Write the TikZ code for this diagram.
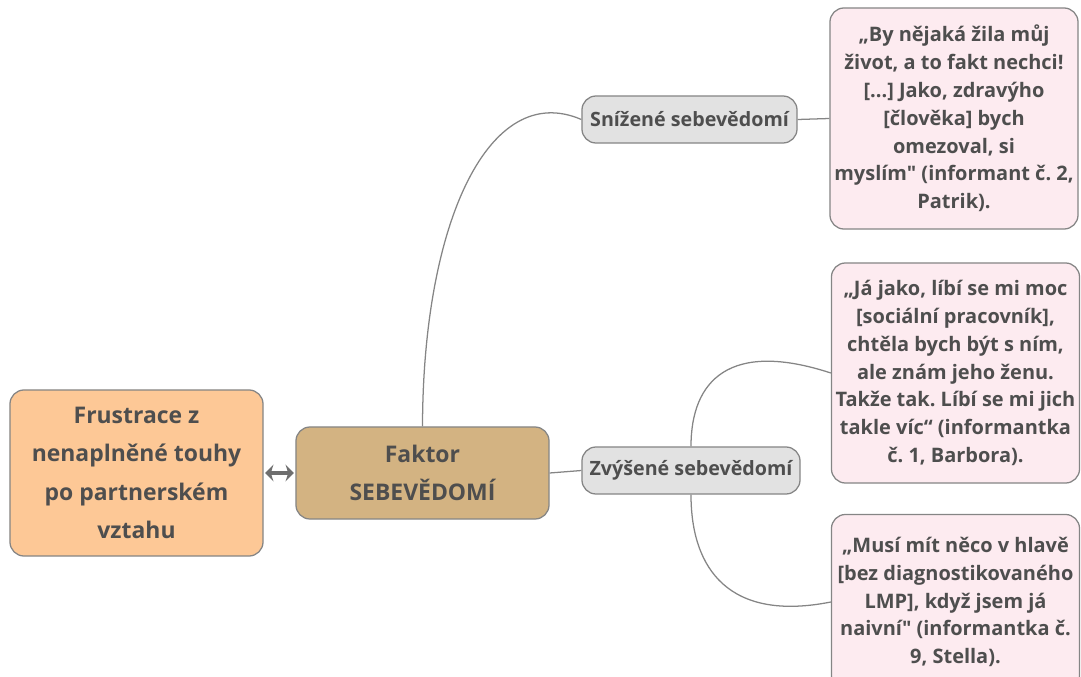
\documentclass[tikz,border=0pt]{standalone}
\usepackage{fontspec}
\newfontfamily\mapfont{Open Sans}
\usetikzlibrary{arrows.meta}
\definecolor{peach}{HTML}{FDC896}
\definecolor{tan}{HTML}{D3B382}
\definecolor{lgray}{HTML}{E2E2E2}
\definecolor{pinkbg}{HTML}{FDEBF0}
\definecolor{edge}{HTML}{858585}
\definecolor{arrowgray}{HTML}{6E6E6E}
\definecolor{txt}{HTML}{4E4E4E}
\frenchspacing
\begin{document}
\begin{tikzpicture}[x=0.025cm,y=-0.025cm,
        box/.style={draw=edge,line width=0.9pt,rounded corners=10pt,inner sep=0pt,
            align=center,text=txt},
        mainbox/.style={box,font=\mapfont\bfseries\fontsize{16.3}{27.3}\selectfont},
        subbox/.style={box,fill=lgray,minimum height=1.175cm,
            font=\mapfont\bfseries\fontsize{14}{16}\selectfont},
        quote/.style={box,fill=pinkbg,minimum width=6.2cm,
            font=\mapfont\bfseries\fontsize{14.2}{19.8}\selectfont},
        link/.style={draw=edge,line width=0.9pt}]
        \useasboundingbox (0,0) rectangle (1081,677);

        % main boxes
        \node[mainbox,fill=peach,minimum width=6.325cm,minimum height=4.15cm] (frust) at (136.5,473)
            {Frustrace z\\ nenaplněné touhy\\ po partnerském\\ vztahu};
        \node[mainbox,fill=tan,minimum width=6.325cm,minimum height=2.3cm] (factor) at (422.5,473)
            {Faktor\\ SEBEVĚDOMÍ};

        % sub boxes
        \node[subbox,minimum width=5.375cm] (low) at (689.5,119.5) {Snížené sebevědomí};
        \node[subbox,minimum width=5.45cm] (high) at (691,470.5) {Zvýšené sebevědomí};

        % quotes
        \node[quote,minimum height=5.525cm] (q1) at (954,118.5)
            {„By nějaká žila můj\\ život, a to fakt nechci!\\{}[...] Jako, zdravýho\\{}[člověka] bych\\
             omezoval, si\\ myslím" (informant č. 2,\\ Patrik).};
        \node[quote,minimum height=5.5cm] (q2) at (955.5,373)
            {„Já jako, líbí se mi moc\\{}[sociální pracovník],\\ chtěla bych být s ním,\\
             ale znám jeho ženu.\\ Takže tak. Líbí se mi jich\\ takle víc“ (informantka\\ č. 1, Barbora).};
        \node[quote,minimum height=4.375cm] (q3) at (955.5,602)
            {„Musí mít něco v hlavě\\{}[bez diagnostikovaného\\ LMP], když jsem já\\
             naivní" (informantka č.\\ 9, Stella).};

        % connectors
        \draw[arrowgray,line width=3.5pt,shorten <=1pt,shorten >=1pt,
            {Stealth[length=6pt,width=12pt]}-{Stealth[length=6pt,width=12pt]}]
            (frust.east) -- (factor.west);
        \draw[link] (factor.north) .. controls (423,220) and (490,80) .. (low.west);
        \draw[link] (factor.east) -- (high.west);
        \draw[link] (low.east) -- (q1.west);
        \draw[link] (high.north) .. controls (691,380) and (730,340) .. (q2.west);
        \draw[link] (high.south) .. controls (691,570) and (730,622) .. (q3.west);
\end{tikzpicture}
\end{document}
